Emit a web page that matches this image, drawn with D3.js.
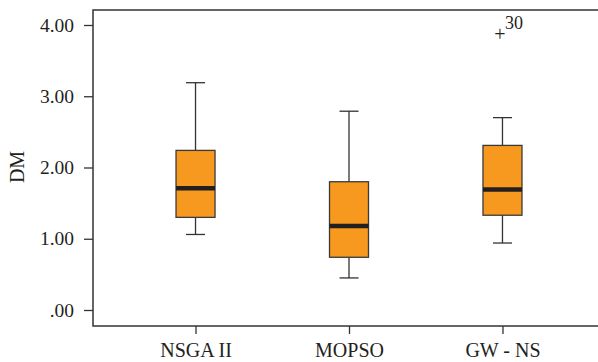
<!DOCTYPE html>
<head>
    <script src="https://d3js.org/d3.v7.min.js"></script>
    <style>
        body { margin: 0; background: white; }
        text { font-family: "Liberation Serif", "DejaVu Serif", serif; fill: #231f20; }
    </style>
</head>
<body>
    <svg width="598" height="362"></svg>
</body>
<script>
    var categories = ["NSGA II", "MOPSO", "GW - NS"]
    var whiskerLow  = [1.06, 0.45, 0.94]
    var q1          = [1.30, 0.74, 1.33]
    var medians     = [1.71, 1.18, 1.69]
    var q3          = [2.24, 1.80, 2.31]
    var whiskerHigh = [3.19, 2.79, 2.70]
    var outliers    = [{ cat: "GW - NS", value: 3.85, label: "30" }]
    var yTicks = [0, 1, 2, 3, 4]

    var svg = d3.select("svg")
    var plotL = 93, plotR = 605, plotT = 10, plotB = 326

    var x = d3.scalePoint().domain(categories).range([plotL, plotR]).padding(0.668)
    var y = d3.scaleLinear().domain([-0.2246, 4.2105]).range([plotB, plotT])

    // frame (right side runs past the picture edge, as in the original crop)
    svg.append("rect")
        .attr("x", plotL).attr("y", plotT)
        .attr("width", plotR - plotL).attr("height", plotB - plotT)
        .attr("fill", "none").attr("stroke", "#333").attr("stroke-width", 1.5)

    var yAxis = svg.append("g")
        .attr("transform", "translate(" + plotL + ",0)")
        .call(d3.axisLeft(y).tickValues(yTicks).tickSize(9).tickPadding(10)
            .tickFormat(d => d === 0 ? ".00" : d3.format(".2f")(d)))
    yAxis.select(".domain").remove()
    yAxis.selectAll("line").attr("stroke", "#333").attr("stroke-width", 1.3)
    yAxis.selectAll("text").attr("font-size", 19.5).attr("font-family", "Liberation Serif").attr("fill", "#231f20")

    var xAxis = svg.append("g")
        .attr("transform", "translate(0," + plotB + ")")
        .call(d3.axisBottom(x).tickSize(8).tickPadding(9))
    xAxis.select(".domain").remove()
    xAxis.selectAll("line").attr("stroke", "#333").attr("stroke-width", 1.3)
    xAxis.selectAll("text").attr("font-size", 20).attr("font-family", "Liberation Serif").attr("fill", "#231f20")

    svg.append("text")
        .attr("transform", "translate(24,167) rotate(-90)")
        .attr("text-anchor", "middle")
        .attr("font-size", 20)
        .text("DM")

    var boxW = 39, capW = 19
    var g = svg.selectAll(".box").data(categories).enter().append("g")

    g.append("line")
        .attr("x1", d => x(d)).attr("x2", d => x(d))
        .attr("y1", (d, i) => y(whiskerHigh[i])).attr("y2", (d, i) => y(whiskerLow[i]))
        .attr("stroke", "#333").attr("stroke-width", 1.3)
    g.append("line")
        .attr("x1", d => x(d) - capW / 2).attr("x2", d => x(d) + capW / 2)
        .attr("y1", (d, i) => y(whiskerHigh[i])).attr("y2", (d, i) => y(whiskerHigh[i]))
        .attr("stroke", "#333").attr("stroke-width", 1.3)
    g.append("line")
        .attr("x1", d => x(d) - capW / 2).attr("x2", d => x(d) + capW / 2)
        .attr("y1", (d, i) => y(whiskerLow[i])).attr("y2", (d, i) => y(whiskerLow[i]))
        .attr("stroke", "#333").attr("stroke-width", 1.3)
    g.append("rect")
        .attr("x", d => x(d) - boxW / 2).attr("width", boxW)
        .attr("y", (d, i) => y(q3[i])).attr("height", (d, i) => y(q1[i]) - y(q3[i]))
        .attr("fill", "#f7981f").attr("stroke", "#3a3a3a").attr("stroke-width", 1.3)
    g.append("line")
        .attr("x1", d => x(d) - boxW / 2).attr("x2", d => x(d) + boxW / 2)
        .attr("y1", (d, i) => y(medians[i])).attr("y2", (d, i) => y(medians[i]))
        .attr("stroke", "#231f20").attr("stroke-width", 4.5)

    var o = svg.selectAll(".outlier").data(outliers).enter().append("g")
    o.append("text")
        .attr("x", d => x(d.cat) - 2.5).attr("y", d => y(d.value) + 5)
        .attr("text-anchor", "middle").attr("font-size", 20)
        .text("+")
    o.append("text")
        .attr("x", d => x(d.cat) + 2.5).attr("y", d => y(d.value) - 6.5)
        .attr("font-size", 18)
        .text(d => d.label)
</script>
